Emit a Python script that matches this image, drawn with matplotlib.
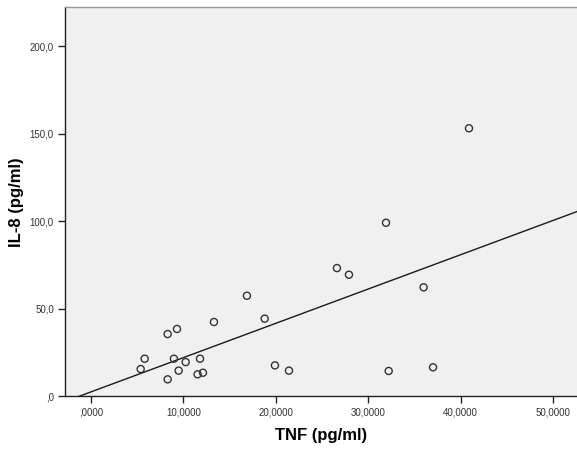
import matplotlib
matplotlib.use("Agg")
import matplotlib.pyplot as plt
import numpy as np

tnf = [5.38, 5.81, 8.30, 9.31, 8.30, 8.98, 9.49, 10.25, 11.80, 11.54, 12.12,
       13.31, 16.88, 18.80, 19.91, 21.43, 40.91, 31.93, 26.62, 27.92, 36.00,
       32.22, 37.02]
il8 = [15.4, 21.3, 35.4, 38.3, 9.5, 21.3, 14.5, 19.4, 21.3, 12.4, 13.3,
       42.3, 57.3, 44.2, 17.5, 14.5, 153.0, 99.0, 73.1, 69.3, 62.1,
       14.3, 16.4]
xticks = [0, 10, 20, 30, 40, 50]
xticklabels = [",0000", "10,0000", "20,0000", "30,0000", "40,0000", "50,0000"]
yticks = [0, 50, 100, 150, 200]
yticklabels = [",0", "50,0", "100,0", "150,0", "200,0"]

plt.rcParams['font.family'] = ['Liberation Sans', 'DejaVu Sans']

fig = plt.figure(figsize=(5.77, 4.5), dpi=100)
ax = fig.add_axes([65/577, 1-396/450, 512/577, 389/450])
ax.set_facecolor('#F0F0F0')

xlim = (-2.81, 52.6)
ylim = (0, 222.3)

slope, intercept = np.polyfit(tnf, il8, 1)
xs = np.array(xlim)
ax.plot(xs, slope*xs + intercept, color='#1a1a1a', lw=1.0, zorder=2)

ax.scatter(tnf, il8, s=26, facecolors='none', edgecolors='#333333',
           linewidths=1.0, zorder=3)

ax.set_xlim(*xlim)
ax.set_ylim(*ylim)
ax.set_xticks(xticks)
ax.set_xticklabels(xticklabels)
ax.set_yticks(yticks)
ax.set_yticklabels(yticklabels)
ax.tick_params(direction='out', length=5, width=1, colors='#222222',
               labelsize=7, labelcolor='#333333', pad=3)

for s in ['left', 'bottom']:
    ax.spines[s].set_color('#222222')
    ax.spines[s].set_linewidth(1.0)
ax.spines['top'].set_color('#999999')
ax.spines['top'].set_linewidth(1.0)
ax.spines['right'].set_visible(False)

ax.set_xlabel('TNF (pg/ml)', fontsize=12, fontweight='bold', labelpad=8)
ax.set_ylabel('IL-8 (pg/ml)', fontsize=12, fontweight='bold')
ax.yaxis.set_label_coords((24-65)/512, (396-202)/389)

fig.savefig('out.png', dpi=100, facecolor='white')
